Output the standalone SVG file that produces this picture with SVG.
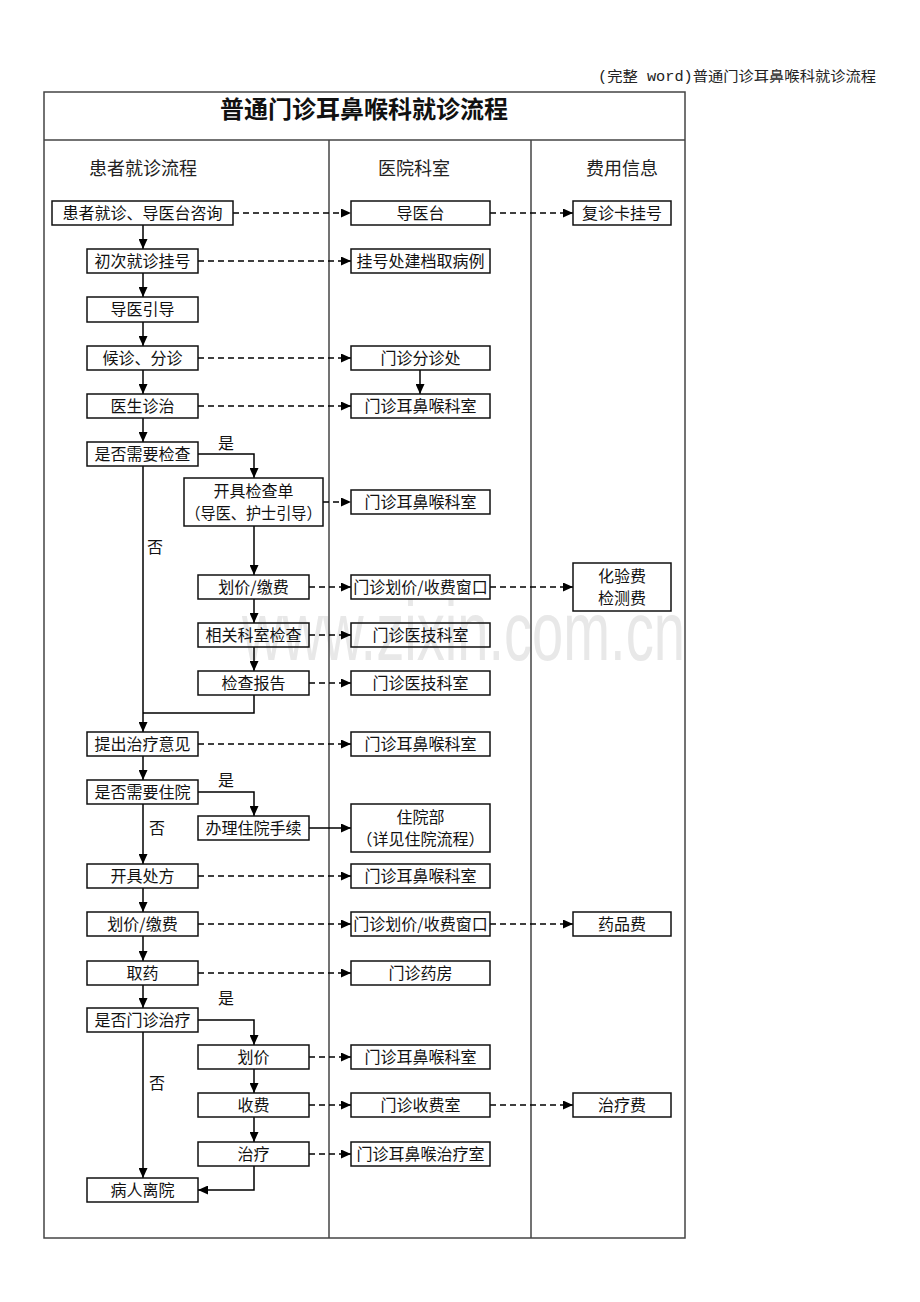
<svg xmlns="http://www.w3.org/2000/svg" width="920" height="1302" viewBox="0 0 920 1302">
<style>
.box{fill:none;stroke:#111;stroke-width:1.5}
.t{font-family:"Noto Sans CJK SC","Liberation Sans",sans-serif;font-size:16px;fill:#111;text-anchor:middle}
.h{font-family:"Noto Sans CJK SC","Liberation Sans",sans-serif;font-size:18px;fill:#222;text-anchor:middle}
.s{fill:none;stroke:#000;stroke-width:1.5;marker-end:url(#ah)}
.sn{fill:none;stroke:#000;stroke-width:1.5}
.d{fill:none;stroke:#000;stroke-width:1.5;stroke-dasharray:6,4;marker-end:url(#ah)}
.frame{fill:none;stroke:#444;stroke-width:1.5}
</style>
<defs>
<marker id="ah" markerUnits="userSpaceOnUse" markerWidth="10" markerHeight="9" refX="10" refY="4.5" orient="auto">
<path d="M0,0 L10,4.5 L0,9 z" fill="#000"/>
</marker>
</defs>
<rect width="920" height="1302" fill="#fff"/>
<text x="876" y="81" font-family="Liberation Mono,'Noto Sans CJK SC',monospace" font-size="14" fill="#222" text-anchor="end" textLength="278" lengthAdjust="spacingAndGlyphs">(完整 word)普通门诊耳鼻喉科就诊流程</text>
<text id="watermark" x="242" y="660" font-family="Liberation Sans,Arial,sans-serif" font-size="83" fill="#e8e8e8" textLength="443" lengthAdjust="spacingAndGlyphs">www.zixin.com.cn</text>
<g id="frame">
<rect class="frame" x="44" y="92" width="641" height="1146"/>
<line class="frame" x1="44" y1="140" x2="685" y2="140"/>
<line class="frame" x1="329" y1="140" x2="329" y2="1238"/>
<line class="frame" x1="531" y1="140" x2="531" y2="1238"/>
<text x="364" y="118" font-family="'Noto Sans CJK SC',sans-serif" font-size="24" font-weight="bold" fill="#111" text-anchor="middle">普通门诊耳鼻喉科就诊流程</text>
<text class="h" x="143" y="175">患者就诊流程</text>
<text class="h" x="414" y="175">医院科室</text>
<text class="h" x="622" y="175">费用信息</text>
</g>
<g id="connectors">
<path class="s" d="M143,225 V249"/>
<path class="s" d="M143,273 V297"/>
<path class="s" d="M143,322 V346"/>
<path class="s" d="M143,370 V394"/>
<path class="s" d="M143,418 V442"/>
<path class="s" d="M198,454 H254 V478"/>
<path class="s" d="M254,526 V575"/>
<path class="s" d="M254,599 V623"/>
<path class="s" d="M254,647 V671"/>
<path class="sn" d="M254,695 V713 H143"/>
<path class="s" d="M143,466 V732"/>
<path class="s" d="M143,756 V780"/>
<path class="s" d="M198,792 H254 V816"/>
<path class="s" d="M143,804 V864"/>
<path class="s" d="M309,828 H351"/>
<path class="s" d="M143,888 V912"/>
<path class="s" d="M143,936 V961"/>
<path class="s" d="M143,985 V1008"/>
<path class="s" d="M198,1020 H254 V1045"/>
<path class="s" d="M143,1032 V1178"/>
<path class="s" d="M254,1069 V1093"/>
<path class="s" d="M254,1117 V1142"/>
<path class="s" d="M254,1166 V1190 H198"/>
<path class="s" d="M420,370 V394"/>
<path class="d" d="M233,213 H351"/>
<path class="d" d="M490,213 H573"/>
<path class="d" d="M198,261 H351"/>
<path class="d" d="M198,358 H351"/>
<path class="d" d="M198,406 H351"/>
<path class="d" d="M323,502 H351"/>
<path class="d" d="M309,587 H351"/>
<path class="d" d="M490,587 H573"/>
<path class="d" d="M309,635 H351"/>
<path class="d" d="M309,683 H351"/>
<path class="d" d="M198,744 H351"/>
<path class="d" d="M198,876 H351"/>
<path class="d" d="M198,924 H351"/>
<path class="d" d="M490,924 H573"/>
<path class="d" d="M198,973 H351"/>
<path class="d" d="M309,1057 H351"/>
<path class="d" d="M309,1105 H351"/>
<path class="d" d="M490,1105 H573"/>
<path class="d" d="M309,1154 H351"/>
<text class="t" x="226" y="449">是</text>
<text class="t" x="155" y="553">否</text>
<text class="t" x="226" y="786">是</text>
<text class="t" x="157" y="834">否</text>
<text class="t" x="226" y="1004">是</text>
<text class="t" x="157" y="1089">否</text>
</g>
<g id="n1"><rect class="box" x="52" y="201" width="181" height="24"/><text class="t" x="142.5" y="219">患者就诊、导医台咨询</text></g>
<g id="n2"><rect class="box" x="87" y="249" width="111" height="24"/><text class="t" x="142.5" y="267">初次就诊挂号</text></g>
<g id="n3"><rect class="box" x="87" y="297" width="111" height="25"/><text class="t" x="142.5" y="315">导医引导</text></g>
<g id="n4"><rect class="box" x="87" y="346" width="111" height="24"/><text class="t" x="142.5" y="364">候诊、分诊</text></g>
<g id="n5"><rect class="box" x="87" y="394" width="111" height="24"/><text class="t" x="142.5" y="412">医生诊治</text></g>
<g id="n6"><rect class="box" x="87" y="442" width="111" height="24"/><text class="t" x="142.5" y="460">是否需要检查</text></g>
<g id="n7"><rect class="box" x="184" y="478" width="139" height="48"/><text class="t" x="253.5" y="497">开具检查单</text><text class="t" x="253.5" y="519" textLength="136" lengthAdjust="spacingAndGlyphs">（导医、护士引导）</text></g>
<g id="n8"><rect class="box" x="198" y="575" width="111" height="24"/><text class="t" x="253.5" y="593">划价/缴费</text></g>
<g id="n9"><rect class="box" x="198" y="623" width="111" height="24"/><text class="t" x="253.5" y="641">相关科室检查</text></g>
<g id="n10"><rect class="box" x="198" y="671" width="111" height="24"/><text class="t" x="253.5" y="689">检查报告</text></g>
<g id="n11"><rect class="box" x="87" y="732" width="111" height="24"/><text class="t" x="142.5" y="750">提出治疗意见</text></g>
<g id="n12"><rect class="box" x="87" y="780" width="111" height="24"/><text class="t" x="142.5" y="798">是否需要住院</text></g>
<g id="n13"><rect class="box" x="198" y="816" width="111" height="24"/><text class="t" x="253.5" y="834">办理住院手续</text></g>
<g id="n14"><rect class="box" x="87" y="864" width="111" height="24"/><text class="t" x="142.5" y="882">开具处方</text></g>
<g id="n15"><rect class="box" x="87" y="912" width="111" height="24"/><text class="t" x="142.5" y="930">划价/缴费</text></g>
<g id="n16"><rect class="box" x="87" y="961" width="111" height="24"/><text class="t" x="142.5" y="979">取药</text></g>
<g id="n17"><rect class="box" x="87" y="1008" width="111" height="24"/><text class="t" x="142.5" y="1026">是否门诊治疗</text></g>
<g id="n18"><rect class="box" x="198" y="1045" width="111" height="24"/><text class="t" x="253.5" y="1063">划价</text></g>
<g id="n19"><rect class="box" x="198" y="1093" width="111" height="24"/><text class="t" x="253.5" y="1111">收费</text></g>
<g id="n20"><rect class="box" x="198" y="1142" width="111" height="24"/><text class="t" x="253.5" y="1160">治疗</text></g>
<g id="n21"><rect class="box" x="87" y="1178" width="111" height="24"/><text class="t" x="142.5" y="1196">病人离院</text></g>
<g id="m1"><rect class="box" x="351" y="201" width="139" height="24"/><text class="t" x="420.5" y="219">导医台</text></g>
<g id="m2"><rect class="box" x="351" y="249" width="139" height="24"/><text class="t" x="420.5" y="267">挂号处建档取病例</text></g>
<g id="m3"><rect class="box" x="351" y="346" width="139" height="24"/><text class="t" x="420.5" y="364">门诊分诊处</text></g>
<g id="m4"><rect class="box" x="351" y="394" width="139" height="24"/><text class="t" x="420.5" y="412">门诊耳鼻喉科室</text></g>
<g id="m5"><rect class="box" x="351" y="490" width="139" height="24"/><text class="t" x="420.5" y="508">门诊耳鼻喉科室</text></g>
<g id="m6"><rect class="box" x="351" y="575" width="139" height="24"/><text class="t" x="420.5" y="593">门诊划价/收费窗口</text></g>
<g id="m7"><rect class="box" x="351" y="623" width="139" height="24"/><text class="t" x="420.5" y="641">门诊医技科室</text></g>
<g id="m8"><rect class="box" x="351" y="671" width="139" height="24"/><text class="t" x="420.5" y="689">门诊医技科室</text></g>
<g id="m9"><rect class="box" x="351" y="732" width="139" height="24"/><text class="t" x="420.5" y="750">门诊耳鼻喉科室</text></g>
<g id="m10"><rect class="box" x="351" y="804" width="139" height="48"/><text class="t" x="420.5" y="823">住院部</text><text class="t" x="420.5" y="845">（详见住院流程）</text></g>
<g id="m11"><rect class="box" x="351" y="864" width="139" height="24"/><text class="t" x="420.5" y="882">门诊耳鼻喉科室</text></g>
<g id="m12"><rect class="box" x="351" y="912" width="139" height="24"/><text class="t" x="420.5" y="930">门诊划价/收费窗口</text></g>
<g id="m13"><rect class="box" x="351" y="961" width="139" height="24"/><text class="t" x="420.5" y="979">门诊药房</text></g>
<g id="m14"><rect class="box" x="351" y="1045" width="139" height="24"/><text class="t" x="420.5" y="1063">门诊耳鼻喉科室</text></g>
<g id="m15"><rect class="box" x="351" y="1093" width="139" height="24"/><text class="t" x="420.5" y="1111">门诊收费室</text></g>
<g id="m16"><rect class="box" x="351" y="1142" width="139" height="24"/><text class="t" x="420.5" y="1160">门诊耳鼻喉治疗室</text></g>
<g id="f1"><rect class="box" x="573" y="201" width="98" height="24"/><text class="t" x="622" y="219">复诊卡挂号</text></g>
<g id="f2"><rect class="box" x="573" y="563" width="98" height="48"/><text class="t" x="622" y="582">化验费</text><text class="t" x="622" y="604">检测费</text></g>
<g id="f3"><rect class="box" x="573" y="912" width="98" height="24"/><text class="t" x="622" y="930">药品费</text></g>
<g id="f4"><rect class="box" x="573" y="1093" width="98" height="24"/><text class="t" x="622" y="1111">治疗费</text></g>
</svg>
